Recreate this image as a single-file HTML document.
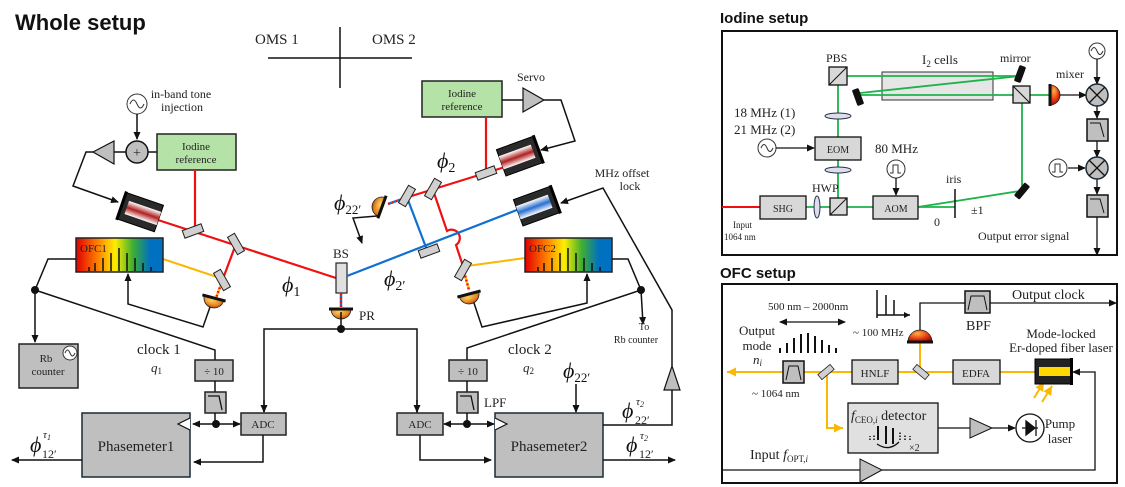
<!DOCTYPE html>
<html><head><meta charset="utf-8"><style>
body{margin:0;background:#fff}
svg{display:block}
text{font-family:"Liberation Serif",serif;fill:#222}
.t{font-family:"Liberation Sans",sans-serif;font-weight:bold;fill:#111}
.ph{font-family:"Liberation Serif",serif;font-style:italic;font-size:22px;fill:#111}
</style></head><body>
<svg width="1125" height="487" viewBox="0 0 1125 487" xmlns="http://www.w3.org/2000/svg">
<defs>
<marker id="a" markerWidth="8" markerHeight="8" refX="7" refY="4" orient="auto" markerUnits="userSpaceOnUse"><path d="M0,0.5 L8,4 L0,7.5z" fill="#111"/></marker>
<marker id="ao" markerWidth="10" markerHeight="10" refX="9" refY="5" orient="auto" markerUnits="userSpaceOnUse"><path d="M0,0.5 L9,5 L0,9.5z" fill="#fbb800"/></marker>
<linearGradient id="ofc" x1="0" x2="1"><stop offset="0" stop-color="#e00000"/><stop offset=".25" stop-color="#ff8000"/><stop offset=".45" stop-color="#ffee00"/><stop offset=".65" stop-color="#40b030"/><stop offset=".85" stop-color="#0070c0"/><stop offset="1" stop-color="#0070c0"/></linearGradient>
<linearGradient id="lr" x1="0" y1="0" x2="0" y2="1"><stop offset="0" stop-color="#fff"/><stop offset=".5" stop-color="#b02020"/><stop offset="1" stop-color="#fff"/></linearGradient>
<linearGradient id="lb" x1="0" y1="0" x2="0" y2="1"><stop offset="0" stop-color="#fff"/><stop offset=".5" stop-color="#2a6fd0"/><stop offset="1" stop-color="#fff"/></linearGradient>
<radialGradient id="det" cx=".4" cy=".3" r=".8"><stop offset="0" stop-color="#ffd060"/><stop offset=".6" stop-color="#e08020"/><stop offset="1" stop-color="#a03000"/></radialGradient>
<radialGradient id="detR" cx=".4" cy=".3" r=".8"><stop offset="0" stop-color="#ffb040"/><stop offset=".6" stop-color="#e03010"/><stop offset="1" stop-color="#900000"/></radialGradient>
<g id="det1"><path d="M-10,0 A10,10 0 0 0 10,0z" fill="url(#det)" stroke="#222" stroke-width=".8"/><line x1="-12" y1="0" x2="12" y2="0" stroke="#111" stroke-width="3"/></g>
<g id="mir"><rect x="-4" y="-10" width="8" height="20" fill="#d0d0d0" stroke="#222" stroke-width="1"/></g>
<g id="bmir"><rect x="-3" y="-8" width="6" height="16" fill="#111" stroke="#111" rx="1"/></g>
</defs>
<text x="15" y="30" class="t" font-size="22">Whole setup</text>
<line x1="340" y1="27" x2="340" y2="88" stroke="#111" stroke-width="1.5"/>
<line x1="268" y1="58" x2="412" y2="58" stroke="#111" stroke-width="1.5"/>
<text x="255" y="44" font-size="15">OMS 1</text><text x="372" y="44" font-size="15">OMS 2</text>

<circle cx="137" cy="104" r="10" fill="#fff" stroke="#333"/><path d="M130,104 q3.5,-8 7,0 t7,0" fill="none" stroke="#333"/>
<text x="181" y="98" font-size="12" text-anchor="middle">in-band tone</text><text x="182" y="111" font-size="12" text-anchor="middle">injection</text>
<line x1="137" y1="114" x2="137" y2="139" stroke="#111" stroke-width="1.5" marker-end="url(#a)"/>
<circle cx="137" cy="152" r="11" fill="#bfbfbf" stroke="#111" stroke-width="1.5"/><text x="137" y="157" font-size="14" text-anchor="middle">+</text>
<line x1="148" y1="152" x2="157" y2="152" stroke="#111" stroke-width="1.5"/>
<line x1="114" y1="152" x2="126" y2="152" stroke="#111" stroke-width="1.5"/>
<path d="M114,141 L114,164 L93,152z" fill="#bfbfbf" stroke="#111" stroke-width="1.2"/>
<rect x="157" y="134" width="79" height="36" fill="#b5e3a7" stroke="#222" stroke-width="1.5"/>
<text x="196" y="150" font-size="11" text-anchor="middle">Iodine</text><text x="196" y="163" font-size="11" text-anchor="middle">reference</text>
<polyline points="93,152 86,152 73,186 118,202" fill="none" stroke="#111" stroke-width="1.5" marker-end="url(#a)"/>
<line x1="158" y1="220" x2="336" y2="278" stroke="#f01010" stroke-width="2.2"/>
<line x1="195" y1="170" x2="195" y2="228" stroke="#f01010" stroke-width="2.2"/>
<polyline points="236,244 224,276" fill="none" stroke="#f01010" stroke-width="2.2"/>
<line x1="224" y1="276" x2="216" y2="298" stroke="#f01010" stroke-width="2.5" stroke-dasharray="2,2"/>
<line x1="224" y1="276" x2="216" y2="298" stroke="#ffc000" stroke-width="2.5" stroke-dasharray="2,2" stroke-dashoffset="2"/>
<line x1="163" y1="259" x2="220" y2="278" stroke="#fbb800" stroke-width="2"/>
<g transform="translate(140,212) rotate(19)"><rect x="-20" y="-14" width="40" height="28" fill="#2a2a2a" stroke="#000"/><rect x="-14" y="-7" width="34" height="14" fill="url(#lr)"/><rect x="-21" y="-15" width="3" height="30" fill="#000"/></g>
<use href="#mir" transform="translate(193,231) rotate(70)"/>
<use href="#mir" transform="translate(236,244) rotate(-30)"/>
<use href="#mir" transform="translate(222,280) rotate(-30)"/>
<use href="#det1" transform="translate(214,298) rotate(15)"/>
<rect x="76" y="238" width="87" height="34" fill="url(#ofc)" stroke="#222" stroke-width="1.5"/>
<text x="80" y="252" font-size="11" fill="#111">OFC1</text>
<path d="M89,271v-4M95,271v-8M103,271v-13M111,271v-18M119,271v-23M127,271v-18M135,271v-13M143,271v-8M151,271v-4" stroke="#111" stroke-width="1.5"/>
<text x="282" y="292" class="ph">ϕ<tspan font-size="14" font-style="normal" dy="4">1</tspan></text>
<rect x="336" y="263" width="11" height="30" fill="#e0e0e0" stroke="#222" stroke-width="1.2"/>
<text x="333" y="258" font-size="13">BS</text>
<line x1="341" y1="293" x2="341" y2="307" stroke="#f01010" stroke-width="2.5" stroke-dasharray="2,2"/>
<line x1="341" y1="293" x2="341" y2="307" stroke="#1070d0" stroke-width="2.5" stroke-dasharray="2,2" stroke-dashoffset="2"/>
<use href="#det1" transform="translate(341,309)"/>
<text x="359" y="320" font-size="13">PR</text>

<rect x="422" y="81" width="80" height="36" fill="#b5e3a7" stroke="#222" stroke-width="1.5"/>
<text x="462" y="97" font-size="11" text-anchor="middle">Iodine</text><text x="462" y="110" font-size="11" text-anchor="middle">reference</text>
<line x1="502" y1="100" x2="523" y2="100" stroke="#111" stroke-width="1.5"/>
<path d="M523,88 L523,112 L544,100z" fill="#bfbfbf" stroke="#111" stroke-width="1.2"/>
<text x="517" y="81" font-size="12">Servo</text>
<polyline points="544,100 561,100 575,141 541,150" fill="none" stroke="#111" stroke-width="1.5" marker-end="url(#a)"/>
<line x1="486" y1="117" x2="486" y2="170" stroke="#f01010" stroke-width="2.2"/>
<line x1="505" y1="167" x2="405" y2="198" stroke="#f01010" stroke-width="2.2"/>
<line x1="405" y1="198" x2="388" y2="204" stroke="#f01010" stroke-width="2.5" stroke-dasharray="2,2"/>
<line x1="405" y1="198" x2="388" y2="204" stroke="#1070d0" stroke-width="2.5" stroke-dasharray="2,2" stroke-dashoffset="2"/>
<path d="M433,190 L447,231 A6,6 0 1 1 456,245 L463,266" fill="none" stroke="#f01010" stroke-width="2.2"/>
<line x1="463" y1="268" x2="469" y2="290" stroke="#f01010" stroke-width="2.5" stroke-dasharray="2,2"/>
<line x1="463" y1="268" x2="469" y2="290" stroke="#ffc000" stroke-width="2.5" stroke-dasharray="2,2" stroke-dashoffset="2"/>
<line x1="467" y1="266" x2="525" y2="258" stroke="#fbb800" stroke-width="2"/>
<line x1="347" y1="276" x2="522" y2="208" stroke="#1070d0" stroke-width="2.2"/>
<line x1="408" y1="200" x2="427" y2="250" stroke="#1070d0" stroke-width="2.2"/>
<g transform="translate(520,156) rotate(-20)"><rect x="-20" y="-14" width="40" height="28" fill="#2a2a2a" stroke="#000"/><rect x="-20" y="-7" width="34" height="14" fill="url(#lr)"/><rect x="18" y="-15" width="3" height="30" fill="#000"/></g>
<g transform="translate(537,206) rotate(-20)"><rect x="-20" y="-14" width="40" height="28" fill="#2a2a2a" stroke="#000"/><rect x="-20" y="-7" width="34" height="14" fill="url(#lb)"/><rect x="18" y="-15" width="3" height="30" fill="#000"/></g>
<use href="#mir" transform="translate(486,173) rotate(70)"/>
<use href="#mir" transform="translate(433,189) rotate(30)"/>
<use href="#mir" transform="translate(407,196) rotate(30)"/>
<use href="#mir" transform="translate(429,251) rotate(70)"/>
<use href="#mir" transform="translate(463,270) rotate(30)"/>
<use href="#det1" transform="translate(382,207) rotate(110)"/>
<use href="#det1" transform="translate(469,294) rotate(-15)"/>
<text x="437" y="168" class="ph">ϕ<tspan font-size="14" font-style="normal" dy="4">2</tspan></text>
<text x="334" y="210" class="ph" font-size="19">ϕ<tspan font-size="13" font-style="normal" dy="4">22′</tspan></text>
<polyline points="377,216 353,218 362,243" fill="none" stroke="#111" stroke-width="1.5" marker-end="url(#a)"/>
<text x="384" y="286" class="ph">ϕ<tspan font-size="14" font-style="normal" dy="4">2′</tspan></text>
<rect x="525" y="238" width="87" height="34" fill="url(#ofc)" stroke="#222" stroke-width="1.5"/>
<text x="529" y="252" font-size="11" fill="#111">OFC2</text>
<path d="M538,271v-4M544,271v-8M552,271v-13M560,271v-18M568,271v-23M576,271v-18M584,271v-13M592,271v-8M600,271v-4" stroke="#111" stroke-width="1.5"/>
<text x="622" y="177" font-size="12" text-anchor="middle">MHz offset</text><text x="630" y="190" font-size="12" text-anchor="middle">lock</text>
<polyline points="672,366 672,310 603,188 561,203" fill="none" stroke="#111" stroke-width="1.5" marker-end="url(#a)"/>

<polyline points="76,259 48,259 35,290 35,342" fill="none" stroke="#111" stroke-width="1.5" marker-end="url(#a)"/>
<circle cx="35" cy="290" r="4" fill="#111"/>
<polyline points="35,290 215,350 215,360" fill="none" stroke="#111" stroke-width="1.5"/>
<polyline points="210,307 203,327 128,304 128,274" fill="none" stroke="#111" stroke-width="1.5" marker-end="url(#a)"/>
<rect x="19" y="344" width="59" height="44" fill="#bfbfbf" stroke="#222" stroke-width="1.5"/>
<text x="46" y="362" font-size="11" text-anchor="middle">Rb</text><text x="48" y="375" font-size="11" text-anchor="middle">counter</text>
<circle cx="70" cy="353" r="7" fill="#fff" stroke="#333"/><path d="M65,353 q2.5,-6 5,0 t5,0" fill="none" stroke="#333"/>
<text x="137" y="354" font-size="15">clock 1</text><text x="151" y="372" font-size="13" font-style="italic">q<tspan font-size="9" font-style="normal" dy="2">1</tspan></text>
<rect x="195" y="360" width="38" height="21" fill="#bfbfbf" stroke="#222" stroke-width="1.5"/><text x="214" y="375" font-size="11" text-anchor="middle">÷ 10</text>
<line x1="215" y1="381" x2="215" y2="392" stroke="#111" stroke-width="1.5"/>
<rect x="205" y="392" width="21" height="21" fill="#bfbfbf" stroke="#222" stroke-width="1.5"/><path d="M208,396 H219 L222,410" fill="none" stroke="#111" stroke-width="1.3"/>
<line x1="215" y1="413" x2="215" y2="424" stroke="#111" stroke-width="1.5"/>
<circle cx="216" cy="424" r="4" fill="#111"/>
<line x1="216" y1="424" x2="193" y2="424" stroke="#111" stroke-width="1.5" marker-end="url(#a)"/>
<line x1="216" y1="424" x2="240" y2="424" stroke="#111" stroke-width="1.5" marker-end="url(#a)"/>
<rect x="82" y="413" width="108" height="64" fill="#bfbfbf" stroke="#1a2a35" stroke-width="1.5"/>
<path d="M190,418 L178,424 L190,430" fill="#fff" stroke="#111" stroke-width="1.2"/>
<text x="136" y="451" font-size="15" text-anchor="middle">Phasemeter1</text>
<rect x="241" y="413" width="45" height="22" fill="#bfbfbf" stroke="#222" stroke-width="1.5"/><text x="263" y="428" font-size="11" text-anchor="middle">ADC</text>
<polyline points="263,435 263,462 194,462" fill="none" stroke="#111" stroke-width="1.5" marker-end="url(#a)"/>
<line x1="82" y1="460" x2="12" y2="460" stroke="#111" stroke-width="1.5" marker-end="url(#a)"/>
<text x="30" y="452" class="ph" font-size="20">ϕ</text><text x="43" y="438" font-size="11" font-style="italic">τ<tspan font-size="8" dy="2">1</tspan></text><text x="42" y="458" font-size="12">12′</text>
<polyline points="417,413 417,329 264,329 264,412" fill="none" stroke="#111" stroke-width="1.5"/>
<line x1="264" y1="400" x2="264" y2="412" stroke="#111" stroke-width="1.5" marker-end="url(#a)"/>
<line x1="417" y1="400" x2="417" y2="412" stroke="#111" stroke-width="1.5" marker-end="url(#a)"/>
<line x1="341" y1="312" x2="341" y2="329" stroke="#111" stroke-width="1.5"/>
<circle cx="341" cy="329" r="4" fill="#111"/>

<polyline points="612,259 628,259 641,290 643,324" fill="none" stroke="#111" stroke-width="1.5" marker-end="url(#a)"/>
<circle cx="641" cy="290" r="4" fill="#111"/>
<polyline points="641,290 467,348 467,360" fill="none" stroke="#111" stroke-width="1.5"/>
<polyline points="474,303 482,327 587,303 587,274" fill="none" stroke="#111" stroke-width="1.5" marker-end="url(#a)"/>
<text x="644" y="330" font-size="10" text-anchor="middle">To</text><text x="636" y="343" font-size="10" text-anchor="middle">Rb counter</text>
<text x="508" y="354" font-size="15">clock 2</text><text x="523" y="372" font-size="13" font-style="italic">q<tspan font-size="9" font-style="normal" dy="2">2</tspan></text>
<rect x="449" y="360" width="38" height="21" fill="#bfbfbf" stroke="#222" stroke-width="1.5"/><text x="468" y="375" font-size="11" text-anchor="middle">÷ 10</text>
<line x1="467" y1="381" x2="467" y2="392" stroke="#111" stroke-width="1.5"/>
<rect x="457" y="392" width="21" height="21" fill="#bfbfbf" stroke="#222" stroke-width="1.5"/><path d="M460,396 H471 L474,410" fill="none" stroke="#111" stroke-width="1.3"/>
<text x="484" y="407" font-size="13">LPF</text>
<line x1="467" y1="413" x2="467" y2="424" stroke="#111" stroke-width="1.5"/>
<circle cx="467" cy="424" r="4" fill="#111"/>
<line x1="467" y1="424" x2="444" y2="424" stroke="#111" stroke-width="1.5" marker-end="url(#a)"/>
<line x1="467" y1="424" x2="494" y2="424" stroke="#111" stroke-width="1.5" marker-end="url(#a)"/>
<rect x="397" y="413" width="46" height="22" fill="#bfbfbf" stroke="#222" stroke-width="1.5"/><text x="420" y="428" font-size="11" text-anchor="middle">ADC</text>
<polyline points="420,435 420,460 491,460" fill="none" stroke="#111" stroke-width="1.5" marker-end="url(#a)"/>
<rect x="495" y="413" width="108" height="64" fill="#bfbfbf" stroke="#1a2a35" stroke-width="1.5"/>
<path d="M495,418 L507,424 L495,430" fill="#fff" stroke="#111" stroke-width="1.2"/>
<text x="549" y="451" font-size="15" text-anchor="middle">Phasemeter2</text>
<text x="563" y="378" class="ph" font-size="20">ϕ<tspan font-size="13" font-style="normal" dy="4">22′</tspan></text>
<line x1="576" y1="384" x2="576" y2="412" stroke="#111" stroke-width="1.5" marker-end="url(#a)"/>
<path d="M664,390 L680,390 L672,366z" fill="#bfbfbf" stroke="#111" stroke-width="1.2"/>
<polyline points="672,390 672,425 603,425" fill="none" stroke="#111" stroke-width="1.5"/>
<text x="622" y="418" class="ph" font-size="20">ϕ</text><text x="636" y="405" font-size="11" font-style="italic">τ<tspan font-size="8" dy="2">2</tspan></text><text x="635" y="424" font-size="12">22′</text>
<text x="626" y="452" class="ph" font-size="20">ϕ</text><text x="640" y="439" font-size="11" font-style="italic">τ<tspan font-size="8" dy="2">2</tspan></text><text x="639" y="458" font-size="12">12′</text>
<line x1="603" y1="460" x2="675" y2="460" stroke="#111" stroke-width="1.5" marker-end="url(#a)"/>

<text x="720" y="23" class="t" font-size="15">Iodine setup</text>
<rect x="722" y="31" width="395" height="224" fill="none" stroke="#111" stroke-width="2"/>
<rect x="882" y="72" width="111" height="28" fill="#e6e6e6" stroke="#333" stroke-width="1"/>
<text x="922" y="64" font-size="13">I<tspan font-size="9" dy="3">2</tspan><tspan dy="-3"> cells</tspan></text>
<text x="826" y="62" font-size="12">PBS</text><text x="1000" y="62" font-size="12">mirror</text><text x="1056" y="78" font-size="12">mixer</text>
<g stroke="#1db34a" stroke-width="1.8" fill="none">
<line x1="838" y1="76" x2="1020" y2="76"/><line x1="1020" y1="76" x2="860" y2="93"/><line x1="860" y1="95" x2="1050" y2="95"/>
<line x1="838" y1="76" x2="838" y2="207"/><line x1="838" y1="207" x2="873" y2="207"/>
<line x1="918" y1="207" x2="955" y2="207"/><line x1="918" y1="207" x2="1020" y2="191"/><line x1="1022" y1="95" x2="1022" y2="191"/>
<line x1="806" y1="207" x2="838" y2="207"/>
</g>
<line x1="722" y1="207" x2="760" y2="207" stroke="#f01010" stroke-width="2"/>
<rect x="829" y="67" width="18" height="18" fill="#d8d8d8" stroke="#111" stroke-width="1.3"/><line x1="829" y1="85" x2="847" y2="67" stroke="#111"/>
<rect x="1013" y="86" width="17" height="17" fill="#d8d8d8" stroke="#111" stroke-width="1.3"/><line x1="1013" y1="86" x2="1030" y2="103" stroke="#111"/>
<rect x="830" y="198" width="17" height="17" fill="#d8d8d8" stroke="#111" stroke-width="1.3"/><line x1="830" y1="215" x2="847" y2="198" stroke="#111"/>
<use href="#bmir" transform="translate(1020,74) rotate(20)"/><use href="#bmir" transform="translate(858,97) rotate(-20)"/><use href="#bmir" transform="translate(1022,191) rotate(40)"/>
<ellipse cx="838" cy="116" rx="13" ry="3" fill="#dde" stroke="#234"/><ellipse cx="838" cy="170" rx="13" ry="3" fill="#dde" stroke="#234"/>
<ellipse cx="817" cy="207" rx="3" ry="11" fill="#dde" stroke="#234"/>
<rect x="815" y="137" width="46" height="23" fill="#d8d8d8" stroke="#111" stroke-width="1.3"/><text x="838" y="153" font-size="10" text-anchor="middle">EOM</text>
<rect x="760" y="196" width="46" height="23" fill="#d8d8d8" stroke="#111" stroke-width="1.3"/><text x="783" y="212" font-size="10" text-anchor="middle">SHG</text>
<rect x="873" y="196" width="45" height="23" fill="#d8d8d8" stroke="#111" stroke-width="1.3"/><text x="896" y="212" font-size="10" text-anchor="middle">AOM</text>
<text x="734" y="117" font-size="13">18 MHz (1)</text><text x="734" y="134" font-size="13">21 MHz (2)</text>
<circle cx="767" cy="148" r="9" fill="#fff" stroke="#333"/><path d="M761,148 q3,-7 6,0 t6,0" fill="none" stroke="#333"/>
<line x1="776" y1="148" x2="814" y2="148" stroke="#111" stroke-width="1.3" marker-end="url(#a)"/>
<text x="875" y="153" font-size="13">80 MHz</text>
<circle cx="896" cy="169" r="9" fill="#fff" stroke="#333"/><path d="M890,173 h3 v-8 h5 v8 h3" fill="none" stroke="#333"/>
<line x1="896" y1="178" x2="896" y2="195" stroke="#111" stroke-width="1.3" marker-end="url(#a)"/>
<text x="812" y="192" font-size="12">HWP</text>
<line x1="955" y1="189" x2="955" y2="218" stroke="#111" stroke-width="1.5"/>
<text x="946" y="183" font-size="12">iris</text><text x="934" y="226" font-size="12">0</text><text x="971" y="214" font-size="12">±1</text>
<text x="733" y="228" font-size="9">Input</text><text x="724" y="240" font-size="9">1064 nm</text>
<text x="978" y="240" font-size="12">Output error signal</text>
<path d="M1050,85 A10,10 0 0 1 1050,105z" fill="url(#detR)" stroke="#222" stroke-width=".8"/><line x1="1050" y1="84" x2="1050" y2="106" stroke="#111" stroke-width="3"/>
<line x1="1060" y1="95" x2="1086" y2="95" stroke="#111" stroke-width="1.3" marker-end="url(#a)"/>
<circle cx="1097" cy="51" r="8" fill="#fff" stroke="#333"/><path d="M1091,51 q3,-7 6,0 t6,0" fill="none" stroke="#333"/>
<g stroke="#111" stroke-width="1.3" marker-end="url(#a)"><line x1="1097" y1="59" x2="1097" y2="84"/><line x1="1097" y1="106" x2="1097" y2="118"/><line x1="1097" y1="141" x2="1097" y2="157"/><line x1="1097" y1="179" x2="1097" y2="194"/><line x1="1097" y1="217" x2="1097" y2="255"/><line x1="1068" y1="168" x2="1085" y2="168"/></g>
<g fill="#bfbfbf" stroke="#1a2a35" stroke-width="1.5"><circle cx="1097" cy="95" r="11"/><circle cx="1097" cy="168" r="11"/></g>
<path d="M1089,87 l16,16 M1105,87 l-16,16 M1089,160 l16,16 M1105,160 l-16,16" stroke="#111" stroke-width="1.3"/>
<rect x="1087" y="119" width="21" height="22" fill="#bfbfbf" stroke="#111" stroke-width="1.5"/><path d="M1090,123 H1100 L1104,137" fill="none" stroke="#111"/>
<rect x="1087" y="195" width="21" height="22" fill="#bfbfbf" stroke="#111" stroke-width="1.5"/><path d="M1090,199 H1100 L1104,213" fill="none" stroke="#111"/>
<circle cx="1058" cy="168" r="9" fill="#fff" stroke="#333"/><path d="M1052,172 h3 v-8 h5 v8 h3" fill="none" stroke="#333"/>

<text x="720" y="278" class="t" font-size="15">OFC setup</text>
<rect x="722" y="284" width="395" height="199" fill="none" stroke="#111" stroke-width="2"/>
<g stroke="#fbb800" stroke-width="2" fill="none">
<line x1="1035" y1="372" x2="727" y2="372" marker-end="url(#ao)"/>
<polyline points="827,375 827,428 843,428" marker-end="url(#ao)"/>
<line x1="920" y1="342" x2="920" y2="372"/>
<line x1="1042" y1="402" x2="1052" y2="386" marker-end="url(#ao)"/><line x1="1034" y1="398" x2="1044" y2="382" marker-end="url(#ao)"/>
</g>
<rect x="783" y="361" width="21" height="22" fill="#bfbfbf" stroke="#111" stroke-width="1.5"/><path d="M786,380 L789,366 H798 L801,380" fill="none" stroke="#111"/>
<use href="#mir" transform="translate(826,372) rotate(50) scale(.8)"/>
<use href="#mir" transform="translate(921,372) rotate(-50) scale(.8)"/>
<rect x="852" y="360" width="46" height="24" fill="#d8d8d8" stroke="#111" stroke-width="1.3"/><text x="875" y="377" font-size="11" text-anchor="middle">HNLF</text>
<rect x="953" y="360" width="47" height="24" fill="#d8d8d8" stroke="#111" stroke-width="1.3"/><text x="976" y="377" font-size="11" text-anchor="middle">EDFA</text>
<rect x="1035" y="359" width="37" height="25" fill="#222" stroke="#000"/><rect x="1039" y="367" width="31" height="9" fill="#ffd800"/><rect x="1070" y="358" width="3" height="27" fill="#000"/>
<path d="M908,342 A12,12 0 0 1 932,342z" fill="url(#detR)" stroke="#222" stroke-width=".8"/><line x1="907" y1="342" x2="933" y2="342" stroke="#111" stroke-width="3"/>
<polyline points="920,330 920,303 965,303" fill="none" stroke="#111" stroke-width="1.3"/>
<rect x="965" y="291" width="25" height="22" fill="#bfbfbf" stroke="#111" stroke-width="1.5"/><path d="M968,310 L971,296 H984 L987,310" fill="none" stroke="#111"/>
<line x1="990" y1="303" x2="1116" y2="303" stroke="#111" stroke-width="1.3" marker-end="url(#a)"/>
<text x="1012" y="299" font-size="14">Output clock</text><text x="966" y="330" font-size="14">BPF</text>
<text x="1061" y="338" font-size="13" text-anchor="middle">Mode-locked</text><text x="1061" y="352" font-size="13" text-anchor="middle">Er-doped fiber laser</text>
<text x="757" y="335" font-size="13" text-anchor="middle">Output</text><text x="757" y="350" font-size="13" text-anchor="middle">mode</text><text x="753" y="364" font-size="13" font-style="italic">n<tspan font-size="9" dy="2">i</tspan></text>
<text x="752" y="397" font-size="11">~ 1064 nm</text>
<text x="768" y="310" font-size="11">500 nm – 2000nm</text>
<line x1="812" y1="322" x2="780" y2="322" stroke="#111" stroke-width="1.3" marker-end="url(#a)"/><line x1="812" y1="322" x2="845" y2="322" stroke="#111" stroke-width="1.3" marker-end="url(#a)"/>
<path d="M780,353v-5M787,353v-10M794,353v-15M801,353v-19M808,353v-20M815,353v-17M822,353v-13M829,353v-8M836,353v-5" stroke="#111" stroke-width="2"/>
<path d="M877,290v25 H910 M886,315v-20 M894,315v-15 M877,318v-10" stroke="#111" stroke-width="1.5" fill="none"/>
<path d="M910,315 l-6,-3 v6z" fill="#111"/>
<text x="853" y="336" font-size="11">~ 100 MHz</text>
<rect x="848" y="403" width="90" height="50" fill="#e0e0e0" stroke="#111" stroke-width="1.3"/>
<text x="851" y="420" font-size="14" font-style="italic">f<tspan font-size="9" font-style="normal" dy="3">CEO,<tspan font-style="italic">i</tspan></tspan><tspan dy="-3" font-style="normal"> detector</tspan></text>
<path d="M878,440v-14M886,444v-18M893,444v-16" stroke="#111" stroke-width="2"/><path d="M870,440v-4M874,440v-6M900,440v-8M905,440v-6M910,440v-4" stroke="#111" stroke-width="1.5" stroke-dasharray="1.5,1.5"/>
<path d="M877,444 q12,8 22,-2" fill="none" stroke="#111" stroke-width="1.3"/>
<text x="909" y="451" font-size="10">×2</text>
<line x1="938" y1="428" x2="970" y2="428" stroke="#111" stroke-width="1.3"/>
<path d="M970,418 L970,438 L992,428z" fill="#bfbfbf" stroke="#111"/>
<line x1="992" y1="428" x2="1015" y2="428" stroke="#111" stroke-width="1.3" marker-end="url(#a)"/>
<circle cx="1030" cy="428" r="14" fill="#fff" stroke="#111" stroke-width="1.3"/><path d="M1022,428 H1038 M1026,421 L1026,435 L1035,428z M1036,420 V436" fill="#111" stroke="#111" stroke-width="1.3"/>
<text x="1060" y="428" font-size="13" text-anchor="middle">Pump</text><text x="1060" y="443" font-size="13" text-anchor="middle">laser</text>
<text x="750" y="459" font-size="14">Input <tspan font-style="italic">f</tspan><tspan font-size="9" dy="3">OPT,<tspan font-style="italic">i</tspan></tspan></text>
<polyline points="722,470 860,470" fill="none" stroke="#111" stroke-width="1.3"/>
<path d="M860,459 L860,482 L882,470z" fill="#bfbfbf" stroke="#111"/>
<polyline points="882,470 1095,470 1095,372 1073,372" fill="none" stroke="#111" stroke-width="1.3" marker-end="url(#a)"/>
</svg>
</body></html>
